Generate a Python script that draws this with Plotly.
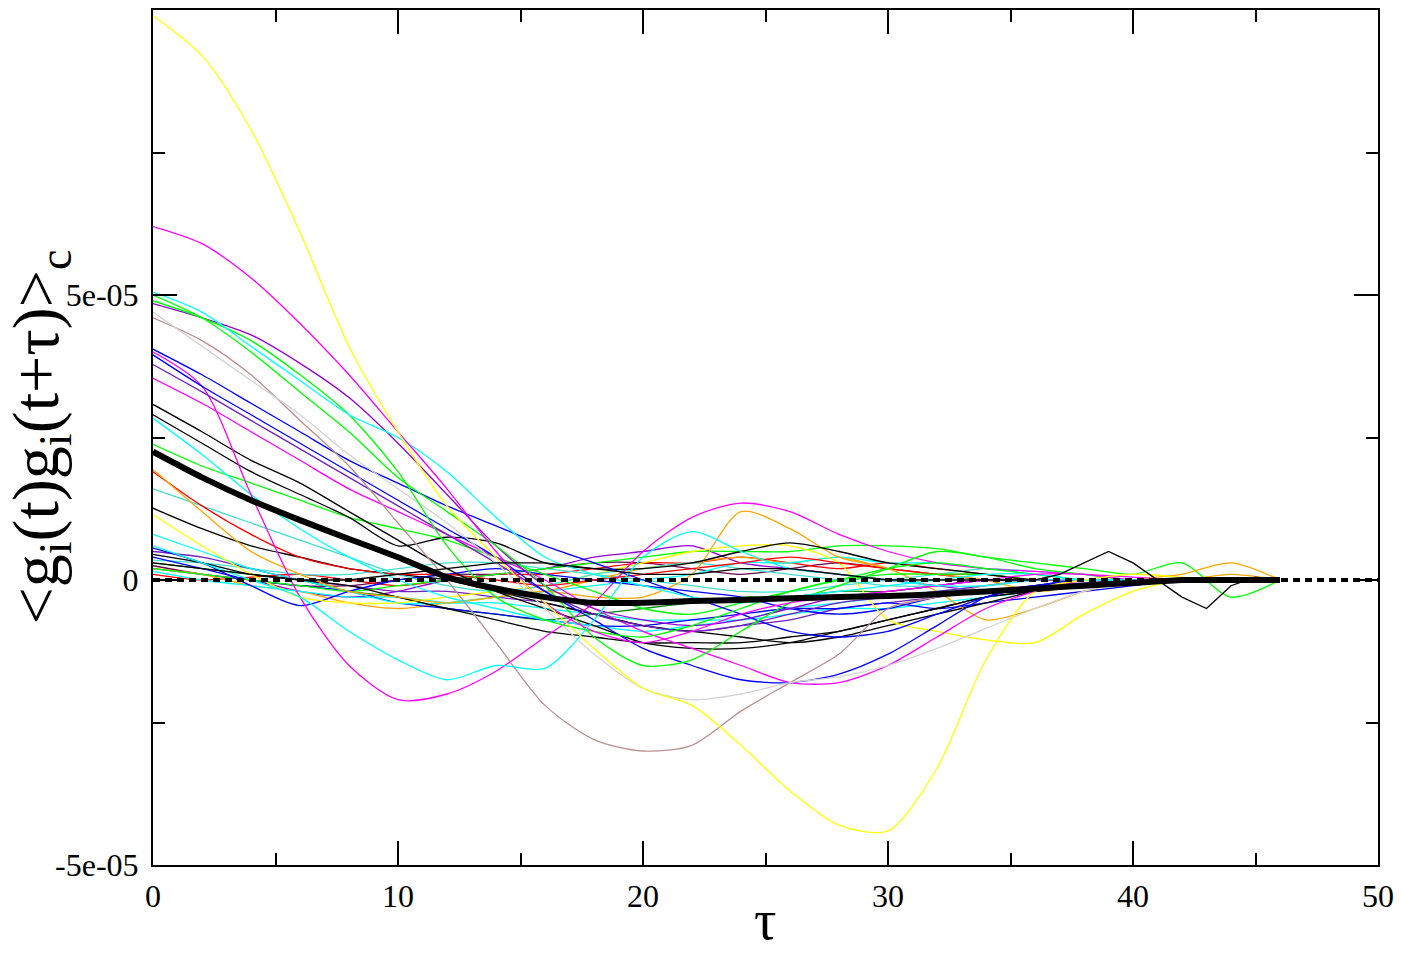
import plotly.graph_objects as go

# ---------------- data (values in units of 1e-5) ----------------
TAU = [0, 2, 4, 6, 8, 10, 12, 14, 16, 18, 20, 22, 24, 26, 28, 30, 32, 34, 36, 38, 40, 42, 44, 46]

yellow_big   = [9.9, 9.2, 7.9, 6.1, 4.1, 2.6, 1.3, 0.4, -0.4, -1.2, -1.9, -2.2, -2.9, -3.7, -4.3, -4.4, -3.3, -1.4, -0.2, 0.0, 0.1, 0.05, 0.0, 0.0]
magenta_hi   = [6.2, 5.9, 5.3, 4.5, 3.6, 2.6, 1.6, 0.5, -0.4, -0.9, -1.1, -0.9, -0.6, -0.4, -0.3, -0.2, -0.1, 0.0, 0.1, 0.1, 0.0, 0.0, 0.0, 0.0]
cyan_hi      = [5.05, 4.7, 4.1, 3.5, 2.9, 2.5, 1.9, 1.1, 0.4, 0.1, -0.1, -0.3, -0.4, -0.3, -0.2, -0.1, 0.0, 0.1, 0.1, 0.0, 0.0, 0.0, 0.0, 0.0]
green_hi     = [4.9, 4.6, 4.2, 3.6, 2.9, 1.9, 0.6, -0.3, -0.7, -0.9, -1.0, -0.8, -0.5, -0.2, 0.0, 0.2, 0.3, 0.2, 0.1, 0.0, 0.0, 0.0, 0.0, 0.0]
green_dip    = [5.0, 4.6, 4.0, 3.3, 2.6, 1.8, 1.2, 0.6, -0.1, -1.0, -1.5, -1.4, -0.9, -0.4, -0.1, 0.2, 0.5, 0.4, 0.2, 0.1, 0.0, 0.0, 0.0, 0.0]
violet_hi    = [4.85, 4.6, 4.3, 3.8, 3.2, 2.4, 1.5, 0.6, -0.1, -0.5, -0.7, -0.8, -0.7, -0.5, -0.3, -0.2, -0.1, 0.0, 0.0, 0.0, 0.0, 0.0, 0.0, 0.0]
grey_hi      = [4.7, 4.1, 3.5, 2.9, 2.2, 1.6, 1.0, 0.3, -0.5, -1.3, -1.9, -2.1, -2.0, -1.8, -1.7, -1.5, -1.2, -0.85, -0.5, -0.2, 0.0, 0.0, 0.0, 0.0]
brown_dip    = [4.6, 4.2, 3.6, 2.8, 2.0, 1.0, 0.0, -1.1, -2.2, -2.8, -3.0, -2.9, -2.3, -1.8, -1.3, -0.5, -0.3, -0.1, 0.0, 0.0, 0.0, 0.0, 0.0, 0.0]
blue_hi      = [4.05, 3.6, 3.1, 2.6, 2.1, 1.7, 1.3, 0.95, 0.6, 0.3, 0.0, -0.3, -0.6, -0.9, -1.0, -0.9, -0.6, -0.3, -0.1, 0.0, 0.0, 0.0, 0.0, 0.0]
blue_dip     = [3.95, 3.4, 2.9, 2.4, 1.9, 1.4, 0.9, 0.4, -0.2, -0.7, -1.2, -1.5, -1.75, -1.8, -1.65, -1.3, -0.8, -0.3, -0.1, 0.0, 0.0, 0.0, 0.0, 0.0]
indigo_hi    = [3.78, 3.3, 2.8, 2.3, 1.8, 1.3, 0.8, 0.3, -0.2, -0.6, -0.8, -0.9, -0.8, -0.6, -0.4, -0.3, -0.2, -0.1, 0.0, 0.0, 0.0, 0.0, 0.0, 0.0]
magenta_dip  = [4.0, 3.4, 1.5, -0.3, -1.5, -2.1, -2.0, -1.6, -1.0, -0.4, 0.5, 1.1, 1.35, 1.2, 0.8, 0.5, 0.3, 0.2, 0.15, 0.1, 0.05, 0.0, 0.0, 0.0]
magenta_mid  = [3.54, 3.1, 2.6, 2.1, 1.6, 1.2, 0.8, 0.4, 0.0, -0.5, -0.9, -1.2, -1.5, -1.8, -1.8, -1.5, -1.0, -0.5, -0.2, 0.0, 0.0, 0.0, 0.0, 0.0]
black_mid    = [3.08, 2.6, 2.1, 1.7, 1.2, 0.7, 0.2, -0.2, -0.5, -0.8, -1.1, -1.2, -1.2, -1.1, -0.9, -0.7, -0.5, -0.3, -0.2, -0.1, 0.0, 0.0, 0.0, 0.0]
black_bump   = [2.9, 2.4, 1.9, 1.5, 1.1, 0.6, 0.75, 0.65, 0.3, 0.2, 0.2, 0.3, 0.5, 0.65, 0.5, 0.3, 0.2, 0.1, 0.0, 0.0, 0.0, 0.0, 0.0, 0.0]
cyan_mid     = [2.84, 2.2, 1.5, 0.9, 0.4, 0.0, -0.3, -0.5, -0.7, -0.8, -0.9, -0.8, -0.7, -0.5, -0.4, -0.3, -0.2, -0.1, 0.0, 0.0, 0.0, 0.0, 0.0, 0.0]
green_mid    = [2.38, 2.0, 1.7, 1.4, 1.1, 0.9, 0.7, 0.4, 0.1, -0.2, -0.5, -0.6, -0.4, -0.2, 0.0, 0.1, 0.1, 0.1, 0.0, 0.0, 0.0, 0.0, 0.0, 0.0]
orange_bump  = [1.94, 1.2, 0.5, 0.1, -0.2, -0.3, -0.4, -0.3, -0.2, -0.3, -0.3, 0.1, 1.2, 0.9, 0.4, 0.2, -0.2, -0.7, -0.5, -0.2, 0.0, 0.1, 0.3, 0.0]
red_mid      = [1.9, 1.3, 0.8, 0.4, 0.2, 0.1, 0.1, 0.0, -0.1, 0.0, 0.1, 0.2, 0.3, 0.4, 0.3, 0.2, 0.1, 0.1, 0.0, 0.0, 0.0, 0.0, 0.0, 0.0]
turq_mid     = [1.6, 1.3, 1.0, 0.7, 0.4, 0.1, -0.1, -0.2, -0.1, 0.1, 0.2, 0.3, 0.2, 0.1, 0.0, -0.1, -0.1, 0.0, 0.0, 0.0, 0.0, 0.0, 0.0, 0.0]
black_low    = [1.26, 0.9, 0.6, 0.4, 0.2, 0.1, 0.0, -0.2, -0.4, -0.6, -0.8, -0.9, -1.0, -1.1, -1.0, -0.8, -0.6, -0.4, -0.2, -0.1, 0.0, 0.0, 0.0, 0.0]
yellow_low   = [1.15, 0.6, 0.1, -0.3, -0.4, -0.4, -0.3, -0.2, -0.1, 0.1, 0.3, 0.5, 0.6, 0.6, 0.3, -0.7, -0.9, -1.05, -1.1, -0.6, -0.2, 0.0, 0.0, 0.0]
cyan_low     = [0.8, 0.5, 0.2, 0.0, -0.2, -0.4, -0.4, -0.3, -0.2, -0.1, 0.0, 0.1, 0.3, 0.3, 0.4, 0.3, 0.3, 0.2, 0.1, 0.0, 0.0, 0.0, 0.0, 0.0]
blue_kink    = [0.56, 0.3, -0.1, -0.45, -0.2, 0.0, 0.1, 0.2, 0.1, 0.0, -0.1, -0.2, -0.3, -0.5, -0.6, -0.5, -0.3, -0.2, -0.1, 0.0, 0.0, 0.0, 0.0, 0.0]
black_neg    = [0.45, 0.3, 0.1, 0.0, -0.1, -0.3, -0.5, -0.7, -0.9, -1.0, -1.1, -1.1, -1.1, -1.0, -0.9, -0.7, -0.5, -0.3, -0.2, -0.1, 0.0, 0.0, 0.0, 0.0]
orange_low   = [0.2, 0.1, -0.1, -0.2, -0.4, -0.5, -0.4, -0.3, -0.2, 0.0, 0.2, 0.3, 0.4, 0.3, 0.4, 0.2, 0.1, 0.0, -0.2, -0.1, 0.0, 0.0, 0.1, 0.0]
green4_low   = [0.3, 0.2, 0.1, 0.0, -0.2, -0.3, -0.5, -0.6, -0.7, -0.6, -0.5, -0.4, -0.3, -0.3, -0.2, -0.2, -0.1, 0.0, 0.0, 0.0, 0.0, 0.0, 0.0, 0.0]
maroon_low   = [0.25, 0.1, 0.0, -0.1, -0.1, 0.0, 0.1, 0.1, 0.2, 0.3, 0.3, 0.2, 0.1, 0.2, 0.3, 0.2, 0.1, 0.0, 0.0, 0.0, 0.0, 0.0, 0.0, 0.0]
green_end    = [0.2, 0.1, 0.0, -0.1, -0.2, -0.1, 0.0, 0.1, 0.2, 0.3, 0.4, 0.5, 0.5, 0.5, 0.6, 0.6, 0.55, 0.4, 0.3, 0.2, 0.1, 0.3, -0.3, 0.0]
red_low      = [0.1, 0.0, 0.05, 0.1, 0.0, -0.1, 0.0, 0.1, 0.1, 0.2, 0.3, 0.3, 0.4, 0.3, 0.2, 0.3, 0.2, 0.1, 0.0, 0.0, 0.0, 0.0, 0.0, 0.0]
violet_low   = [0.2, 0.1, 0.0, -0.2, -0.3, -0.2, 0.0, 0.1, 0.2, 0.4, 0.5, 0.6, 0.3, 0.2, 0.1, 0.0, -0.1, -0.2, -0.2, -0.1, 0.0, 0.0, 0.0, 0.0]
cyan_neg     = [0.15, 0.0, -0.1, -0.2, -0.3, -0.3, -0.4, -0.4, -0.5, -0.6, -0.7, -0.7, -0.7, -0.6, -0.5, -0.5, -0.4, -0.3, -0.2, -0.1, 0.0, 0.0, 0.0, 0.0]
indigo_low   = [0.5, 0.4, 0.2, 0.0, -0.1, -0.2, -0.2, -0.3, -0.4, -0.6, -0.8, -0.9, -0.8, -0.7, -0.5, -0.4, -0.3, -0.2, -0.1, -0.05, 0.0, 0.0, 0.0, 0.0]
blue_low     = [0.4, 0.2, 0.0, -0.1, -0.2, -0.4, -0.5, -0.6, -0.7, -0.8, -0.8, -0.7, -0.6, -0.5, -0.5, -0.4, -0.5, -0.4, -0.3, -0.2, -0.1, 0.0, 0.0, 0.0]
turq_low     = [0.35, 0.3, 0.2, 0.1, 0.1, 0.2, 0.3, 0.3, 0.2, 0.1, 0.0, -0.1, -0.2, -0.2, -0.1, 0.0, 0.1, 0.2, 0.15, 0.1, 0.0, 0.0, 0.0, 0.0]
cyan_bump    = [0.6, 0.3, 0.0, -0.3, -0.9, -1.4, -1.75, -1.5, -1.55, -0.7, 0.4, 0.85, 0.5, 0.2, 0.1, 0.0, -0.1, -0.1, 0.0, 0.0, 0.0, 0.0, 0.0, 0.0]

# black curve with a zig-zag tail (finer sampling)
TAU_ZIG   = [0, 2, 4, 6, 8, 10, 12, 14, 16, 18, 20, 22, 24, 26, 28, 30, 32, 34, 36, 37, 38, 39, 40, 41, 42, 43, 44, 45, 46]
black_zig = [0.3, 0.2, 0.1, 0.0, 0.0, 0.1, 0.2, 0.3, 0.3, 0.2, 0.1, 0.1, 0.2, 0.2, 0.1, 0.0, 0.0, 0.0, 0.0, 0.1, 0.3, 0.5, 0.3, 0.0, -0.3, -0.5, -0.1, 0.05, 0.0]

# ensemble average (thick black)
mean_curve = [2.25, 1.8, 1.4, 1.05, 0.72, 0.4, 0.05, -0.15, -0.3, -0.4, -0.4, -0.37, -0.35, -0.32, -0.3, -0.28, -0.25, -0.2, -0.15, -0.1, -0.05, 0.0, 0.0, 0.0]

ZERO_TAU = [0, 50]
ZERO_VAL = [0, 0]

UNIT = 1e-5
X_TICKS = [0, 10, 20, 30, 40, 50]
X_TICK_TEXT = ["0", "10", "20", "30", "40", "50"]
Y_TICKS = [-5e-5, 0, 5e-5]
Y_TICK_TEXT = ["-5e-05", "0", "5e-05"]

# ---------------- styles ----------------
GRACE = {
    "black": "#000000", "red": "#ff0000", "green": "#00ff00", "blue": "#0000ff",
    "yellow": "#ffff00", "brown": "#bc8f8f", "grey": "#d3d3d3", "violet": "#9400d3",
    "cyan": "#00ffff", "magenta": "#ff00ff", "orange": "#ffa500", "indigo": "#7221bc",
    "maroon": "#670748", "turquoise": "#40e0d0", "green4": "#008b00",
}

series = [
    (maroon_low, "maroon"), (red_low, "red"), (violet_low, "violet"), (turq_low, "turquoise"),
    (orange_low, "orange"), (green4_low, "green4"), (cyan_neg, "cyan"), (indigo_low, "indigo"),
    (blue_low, "blue"), (green_end, "green"), (cyan_low, "cyan"), (blue_kink, "blue"),
    (black_neg, "black"), (black_low, "black"), (yellow_low, "yellow"), (turq_mid, "turquoise"),
    (red_mid, "red"), (orange_bump, "orange"), (green_mid, "green"), (cyan_mid, "cyan"),
    (black_bump, "black"), (black_mid, "black"), (magenta_mid, "magenta"), (magenta_dip, "magenta"),
    (indigo_hi, "indigo"), (blue_dip, "blue"), (blue_hi, "blue"), (brown_dip, "brown"),
    (grey_hi, "grey"), (violet_hi, "violet"), (green_dip, "green"), (green_hi, "green"),
    (cyan_hi, "cyan"), (magenta_hi, "magenta"), (cyan_bump, "cyan"), (yellow_big, "yellow"),
]

fig = go.Figure()
for vals, cname in series:
    fig.add_trace(go.Scatter(
        x=TAU, y=[v * UNIT for v in vals], mode="lines",
        line=dict(color=GRACE[cname], width=1.3, shape="spline", smoothing=0.8),
        showlegend=False, hoverinfo="skip"))

fig.add_trace(go.Scatter(
    x=TAU_ZIG, y=[v * UNIT for v in black_zig], mode="lines",
    line=dict(color="#000000", width=1.3), showlegend=False, hoverinfo="skip"))

fig.add_trace(go.Scatter(
    x=ZERO_TAU, y=ZERO_VAL, mode="lines",
    line=dict(color="#000000", width=4, dash="7px,5px"), showlegend=False, hoverinfo="skip"))

fig.add_trace(go.Scatter(
    x=TAU, y=[v * UNIT for v in mean_curve], mode="lines",
    line=dict(color="#000000", width=6, shape="spline", smoothing=0.5),
    showlegend=False, hoverinfo="skip"))

FONT = "Liberation Serif"

fig.update_layout(
    width=1402, height=953,
    margin=dict(l=153, r=24, t=8, b=88),
    paper_bgcolor="white", plot_bgcolor="white",
    font=dict(family=FONT, color="black", size=32),
    showlegend=False,
    xaxis=dict(
        range=[0, 50], tickvals=X_TICKS, ticktext=X_TICK_TEXT,
        ticks="inside", ticklen=24, tickwidth=2, tickcolor="black",
        showline=True, linewidth=2, linecolor="black", mirror="ticks",
        showgrid=False, zeroline=False, ticklabelstandoff=2,
        tickfont=dict(family=FONT, size=32, color="black"),
        minor=dict(tickvals=[5, 15, 25, 35, 45], ticks="inside", ticklen=12,
                   tickwidth=2, tickcolor="black", showgrid=False),
    ),
    yaxis=dict(
        range=[-5e-5, 1e-4], tickvals=Y_TICKS, ticktext=Y_TICK_TEXT,
        ticks="inside", ticklen=24, tickwidth=2, tickcolor="black",
        showline=True, linewidth=2, linecolor="black", mirror="ticks",
        showgrid=False, zeroline=False, ticklabelstandoff=6,
        tickfont=dict(family=FONT, size=32, color="black"),
        minor=dict(tickvals=[-2.5e-5, 2.5e-5, 7.5e-5], ticks="inside", ticklen=12,
                   tickwidth=2, tickcolor="black", showgrid=False),
    ),
    annotations=[
        dict(text="<g<sub>i</sub>(t)g<sub>i</sub>(t+τ)><sub>c</sub>",
             xref="paper", yref="paper", x=(40 - 153) / 1225, y=0.5,
             xanchor="center", yanchor="middle", textangle=-90, showarrow=False,
             font=dict(family=FONT, size=66, color="black")),
        dict(text="τ", xref="paper", yref="paper", x=0.5, y=-(953 - 865) / 857,
             xanchor="center", yanchor="bottom", showarrow=False,
             font=dict(family=FONT, size=56, color="black")),
    ],
)

fig.write_html("out.html")
